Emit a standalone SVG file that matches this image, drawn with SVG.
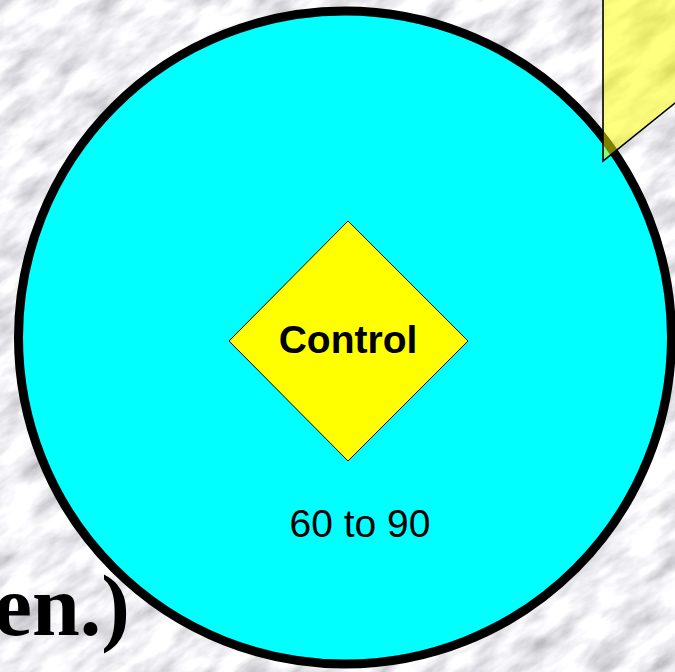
<svg xmlns="http://www.w3.org/2000/svg" width="675" height="672" viewBox="0 0 675 672">
  <defs>
    <filter id="marble" x="0" y="0" width="1" height="1" filterUnits="objectBoundingBox">
      <feTurbulence type="fractalNoise" baseFrequency="0.02 0.05" numOctaves="5" seed="7"/>
      <feColorMatrix type="matrix" values="1.0 0 0 0 0.38  1.0 0 0 0 0.38  1.0 0 0 0 0.41  0 0 0 0 1"/>
    </filter>
  </defs>
  <style>
    .ring { fill: #00ffff; stroke: #000000; stroke-width: 9; }
    .diamond { fill: #ffff00; stroke: #000000; stroke-width: 1; }
    .callout { fill: #ffff00; fill-opacity: 0.5; stroke: #000000; stroke-width: 1.6; }
    .label { font-family: "Liberation Sans", Arial, sans-serif; fill: #000000; }
    .serif { font-family: "Liberation Serif", "Times New Roman", serif; font-weight: bold; fill: #000000; }
  </style>
  <rect width="675" height="672" fill="#dedee2"/>
  <g transform="rotate(-35 337 336)">
    <rect x="-250" y="-250" width="1175" height="1172" filter="url(#marble)"/>
  </g>
  <g id="ring">
    <circle class="ring" cx="345" cy="337.5" r="326.5"/>
    <text class="label" x="360" y="537" font-size="39" text-anchor="middle">60 to 90</text>
  </g>
  <g id="control">
    <polygon class="diamond" points="348,221 468,341 348,461 229,341"/>
    <text class="label" x="348" y="353" font-size="39" font-weight="bold" text-anchor="middle">Control</text>
  </g>
  <g id="callout">
    <polygon class="callout" points="603,-5 603,161 675,103 700,83 700,-5"/>
  </g>
  <g id="caption">
    <text class="serif" x="130" y="635" font-size="86" text-anchor="end">en.)</text>
  </g>
  <g id="connectors"/>
</svg>
